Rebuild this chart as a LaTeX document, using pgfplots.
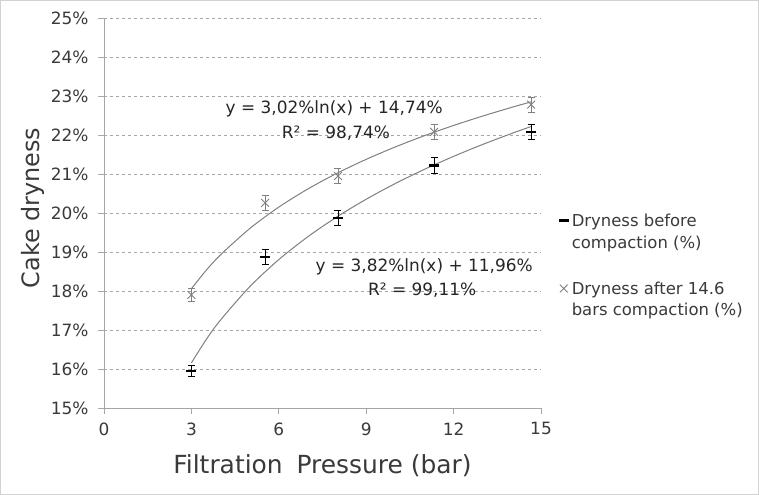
\documentclass[border=0pt]{standalone}
\usepackage{pgfplots}
\pgfplotsset{compat=1.18}
\usepackage{fontspec}
\setmainfont{DejaVu Sans}
\definecolor{tickgray}{HTML}{3A3A3A}
\definecolor{linegray}{HTML}{808080}
\definecolor{axgray}{HTML}{A6A6A6}
\begin{document}
\begin{tikzpicture}[x=1bp,y=1bp]
\useasboundingbox (0,0) rectangle (759,495);
\fill[white] (0,0) rectangle (759,495);
\draw[gray!35] (0.5,0.5) rectangle (758.5,494.5);
\begin{axis}[
  at={(104bp,87bp)}, anchor=south west,
  scale only axis, width=437bp, height=390bp,
  xmin=0, xmax=15, ymin=15, ymax=25,
  xtick={0,3,...,15}, ytick={15,16,...,25},
  axis x line*=bottom, axis y line*=left,
  axis line style={axgray, -, line width=0.8bp},
  tick style={axgray, line width=0.8bp},
  tick align=outside, major tick length=6bp,
  ymajorgrids, grid style={gray!70, dashed, line width=0.6bp},
  /pgf/number format/assume math mode=true,
  yticklabel={\pgfmathprintnumber{\tick}\%},
  ticklabel style={font=\fontsize{17}{20}\selectfont, text=tickgray},
  yticklabel style={xshift=-6bp},
  xticklabel style={yshift=-5bp},
  xlabel={Filtration\hspace{6bp} Pressure (bar)},
  ylabel={Cake dryness},
  xlabel style={font=\fontsize{25}{28}\selectfont, text=tickgray, at={(axis description cs:0.5,0)}, anchor=center, yshift=-58bp},
  ylabel style={font=\fontsize{24}{26}\selectfont, text=tickgray, at={(axis description cs:0,0.5)}, anchor=center, yshift=71bp, xshift=5bp},
  legend style={at={(axis description cs:1.038,0.504)}, anchor=north west, draw=none, fill=none,
    font=\fontsize{16.5}{22}\selectfont, text=tickgray, row sep=28bp, inner sep=0pt,
    cells={align=left}},
  legend cell align=left,
  legend image code/.code={\path[draw=none,fill=none] (0bp,-16bp) rectangle (12bp,16bp); \draw[#1] plot coordinates {(6bp,11bp)};},
  clip=false,
]
% trendlines (values of the fitted curves printed on the chart)
\addplot[linegray, line width=1bp, smooth, forget plot] coordinates {
 (3,16.157) (3.5,16.746) (4,17.256) (5,18.108) (6,18.805) (7,19.393) (8,19.903)
 (9,20.353) (10,20.756) (11,21.120) (12,21.452) (13,21.758) (14,22.041) (14.66,22.217)};
\addplot[linegray, line width=1bp, smooth, forget plot] coordinates {
 (3,18.058) (3.5,18.523) (4,18.927) (5,19.600) (6,20.151) (7,20.617) (8,21.020)
 (9,21.376) (10,21.694) (11,21.982) (12,22.244) (13,22.486) (14,22.710) (14.66,22.849)};
% data
\addplot[only marks, black, mark=-, mark size=5bp, mark options={line width=2.6bp},
  error bars/.cd, y dir=both, y explicit,
  error mark options={black, line width=0.8bp, mark size=3.5bp, rotate=90},
  error bar style={black, line width=0.8bp}]
  coordinates {
 (3,15.95) +- (0,0.15)
 (5.53,18.87) +- (0,0.19)
 (8.03,19.87) +- (0,0.2)
 (11.33,21.22) +- (0,0.2)
 (14.66,22.08) +- (0,0.2)};
\addlegendentry{Dryness before\\compaction (\%)}
\addplot[only marks, linegray, mark=x, mark size=5.5bp, mark options={line width=0.9bp},
  error bars/.cd, y dir=both, y explicit,
  error mark options={linegray, line width=0.8bp, mark size=3.5bp, rotate=90},
  error bar style={linegray, line width=0.8bp}]
  coordinates {
 (3,17.9) +- (0,0.16)
 (5.53,20.26) +- (0,0.2)
 (8.03,20.95) +- (0,0.19)
 (11.33,22.08) +- (0,0.19)
 (14.66,22.78) +- (0,0.19)};
\addlegendentry{Dryness after 14.6\\bars compaction (\%)}
% equations
\node[font=\fontsize{17}{20}\selectfont, text=black!85] at (axis cs:7.90,22.66) {y = 3,02\%ln(x) + 14,74\%};
\node[font=\fontsize{17}{20}\selectfont, text=black!85] at (axis cs:7.96,22.05) {R² = 98,74\%};
\node[font=\fontsize{17}{20}\selectfont, text=black!85] at (axis cs:10.99,18.62) {y = 3,82\%ln(x) + 11,96\%};
\node[font=\fontsize{17}{20}\selectfont, text=black!85] at (axis cs:10.92,18.03) {R² = 99,11\%};
\end{axis}
\end{tikzpicture}
\end{document}
